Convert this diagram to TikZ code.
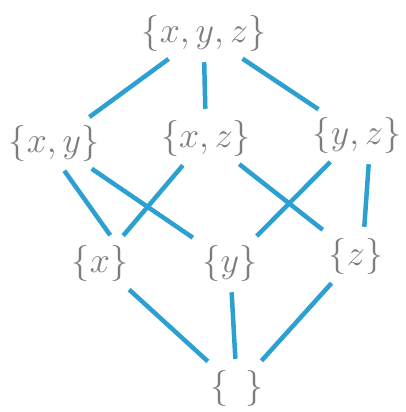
\documentclass[tikz,border=0pt]{standalone}
\usepackage{tikz}
\definecolor{penblue}{RGB}{45,160,210}
\definecolor{pencil}{RGB}{125,125,125}
\newcommand{\bigset}[1]{\scalebox{1.45}{$\{#1\}$}}
\begin{document}
\begin{tikzpicture}[x=1pt,y=-1pt,
  set/.style={text=pencil,font=\Huge,inner sep=3pt},
  hasse/.style={penblue,line width=4.5pt,shorten <=8pt,shorten >=8pt}]
\useasboundingbox (0,0) rectangle (405,412);
\node[set] (xyz) at (204,33) {\bigset{x,y,z}};
\node[set] (xy) at (54,143) {\bigset{x,y}};\node[set] (xz) at (206,138) {\bigset{x,z}};\node[set] (yz) at (357,135) {\bigset{y,z}};
\node[set] (x) at (100,263) {\bigset{x}};\node[set] (y) at (230,263) {\bigset{y}};\node[set] (z) at (356,256) {\bigset{z}};
\node[set] (e) at (237,388) {\bigset{\;\,}};
% edges of the Hasse diagram
\foreach \a/\b in {xyz/xy,xyz.south/xz,xyz/yz,xy.-75/x.55,xy/y,xz/x,xz/z,yz/y,yz.-60/z.70,x/e,y/e,z/e} {\draw[hasse] (\a) -- (\b);}
\end{tikzpicture}
\end{document}
